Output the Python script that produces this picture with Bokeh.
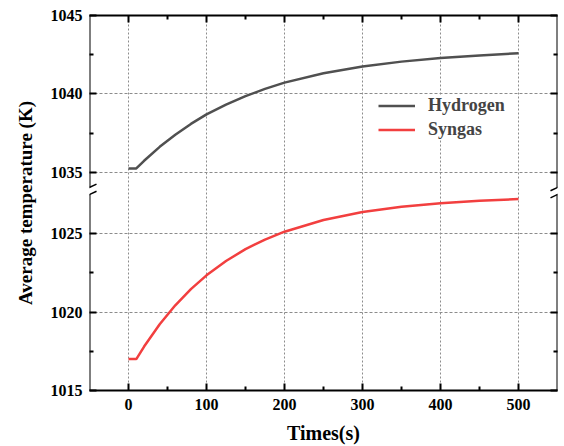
import numpy as np
from bokeh.plotting import figure
from bokeh.models import (LinearAxis, FixedTicker, Range1d, Legend, LegendItem, Arrow,
                          CustomLabelingPolicy)
from bokeh.embed import file_html
from bokeh.resources import INLINE

# ---- data ----
time_s = [0, 10, 20, 40, 60, 80, 100, 125, 150, 175, 200, 250, 300, 350, 400, 450, 500]
hydrogen = [1035.25, 1035.25, 1035.74, 1036.63, 1037.40, 1038.09, 1038.70, 1039.32,
            1039.86, 1040.32, 1040.72, 1041.32, 1041.75, 1042.06, 1042.29, 1042.45, 1042.60]
syngas = [1017.00, 1017.00, 1017.80, 1019.22, 1020.43, 1021.46, 1022.34, 1023.25,
          1024.01, 1024.62, 1025.12, 1025.87, 1026.38, 1026.71, 1026.94, 1027.09, 1027.20]

x_ticks = [0, 100, 200, 300, 400, 500]
x_minor = [50, 150, 250, 350, 450]
y_ticks = [1015, 1020, 1025, 1035, 1040, 1045]
y_minor = [1017.5, 1022.5, 1037.5, 1042.5]

# broken axis: values above the break are shifted down
BREAK_AT = 1030.0
SHIFT = 6.1


def disp(v):
    v = np.asarray(v, dtype=float)
    return np.where(v >= BREAK_AT, v - SHIFT, v)


FONT = "Liberation Serif"

p = figure(frame_width=468, frame_height=375, output_backend="svg",
           toolbar_location=None, x_range=Range1d(-50, 550),
           y_range=Range1d(1015, 1045 - SHIFT),
           min_border_left=89, min_border_top=15, min_border_right=6, min_border_bottom=52)
p.outline_line_color = None
p.background_fill_color = "white"

r_h = p.line(time_s, disp(hydrogen), line_color="#505050", line_width=2.5)
r_s = p.line(time_s, disp(syngas), line_color="#f23f3f", line_width=2.5)

y_disp_ticks = [float(t) for t in disp(y_ticks)]
y_disp_minor = [float(t) for t in disp(y_minor)]
labels = {float(d): str(t) for d, t in zip(y_disp_ticks, y_ticks)}

# grid
p.xgrid.ticker = FixedTicker(ticks=x_ticks)
p.ygrid.ticker = FixedTicker(ticks=y_disp_ticks)
p.xgrid.grid_line_color = "#8c8c8c"
p.xgrid.grid_line_dash = "2 2"
p.ygrid.grid_line_color = "#8c8c8c"
p.ygrid.grid_line_dash = "3 2"

no_labels = CustomLabelingPolicy(code="return new Set()")


def style(ax, show_labels=True):
    ax.axis_line_width = 2
    ax.axis_line_color = "black"
    ax.major_tick_line_width = 2
    ax.minor_tick_line_width = 2
    ax.major_tick_in = 7
    ax.major_tick_out = 0
    ax.minor_tick_in = 4
    ax.minor_tick_out = 0
    ax.major_label_text_font = FONT
    ax.major_label_text_font_style = "bold"
    ax.major_label_text_color = "black"
    ax.major_label_text_font_size = "16px"
    ax.axis_label_text_font = FONT
    ax.axis_label_text_font_style = "bold"
    ax.axis_label_text_font_size = "19px"
    ax.axis_label_text_color = "black"
    if not show_labels:
        ax.major_label_policy = no_labels
        ax.major_label_standoff = 0


# bottom
xb = p.xaxis[0]
xb.ticker = FixedTicker(ticks=x_ticks, minor_ticks=x_minor)
style(xb)
xb.major_label_standoff = 8
xb.axis_label = "Times(s)"
xb.axis_label_text_font_size = "20px"
xb.axis_label_standoff = 9

# left
yl = p.yaxis[0]
yl.ticker = FixedTicker(ticks=y_disp_ticks, minor_ticks=y_disp_minor)
yl.major_label_overrides = labels
style(yl)
yl.axis_line_color = None
yl.major_label_standoff = 7
yl.axis_label = "Average temperature (K)"
yl.axis_label_standoff = 12

# top
xt = LinearAxis(ticker=FixedTicker(ticks=x_ticks, minor_ticks=x_minor))
style(xt, show_labels=False)
p.add_layout(xt, "above")

# right
yr = LinearAxis(ticker=FixedTicker(ticks=y_disp_ticks, minor_ticks=y_disp_minor))
style(yr, show_labels=False)
yr.axis_line_color = None
p.add_layout(yr, "right")

# axis lines with the break gap
gap_lo = 1027.49
gap_hi = 1027.94
for xe in (-50, 550):
    p.add_layout(Arrow(end=None, x_start=xe, y_start=1015 - 0.07, x_end=xe, y_end=gap_lo,
                       line_width=2, line_color="black"))
    p.add_layout(Arrow(end=None, x_start=xe, y_start=gap_hi, x_end=xe, y_end=1045 - SHIFT + 0.07,
                       line_width=2, line_color="black"))
    for yc in (gap_lo, gap_hi):
        p.add_layout(Arrow(end=None, x_start=xe - 9, y_start=yc - 0.21, x_end=xe + 9, y_end=yc + 0.21,
                           line_width=1.5, line_color="black"))

legend = Legend(items=[LegendItem(label="Hydrogen", renderers=[r_h]),
                       LegendItem(label="Syngas", renderers=[r_s])],
                location=(289, 250))
legend.label_text_font = FONT
legend.label_text_font_style = "bold"
legend.label_text_font_size = "18px"
legend.border_line_color = None
legend.background_fill_color = "white"
legend.background_fill_alpha = 1.0
legend.glyph_width = 37
legend.glyph_height = 19
legend.label_standoff = 13
legend.spacing = 3
legend.padding = 8
legend.margin = 0
p.add_layout(legend)

open("out.html", "w").write(file_html(p, INLINE))
